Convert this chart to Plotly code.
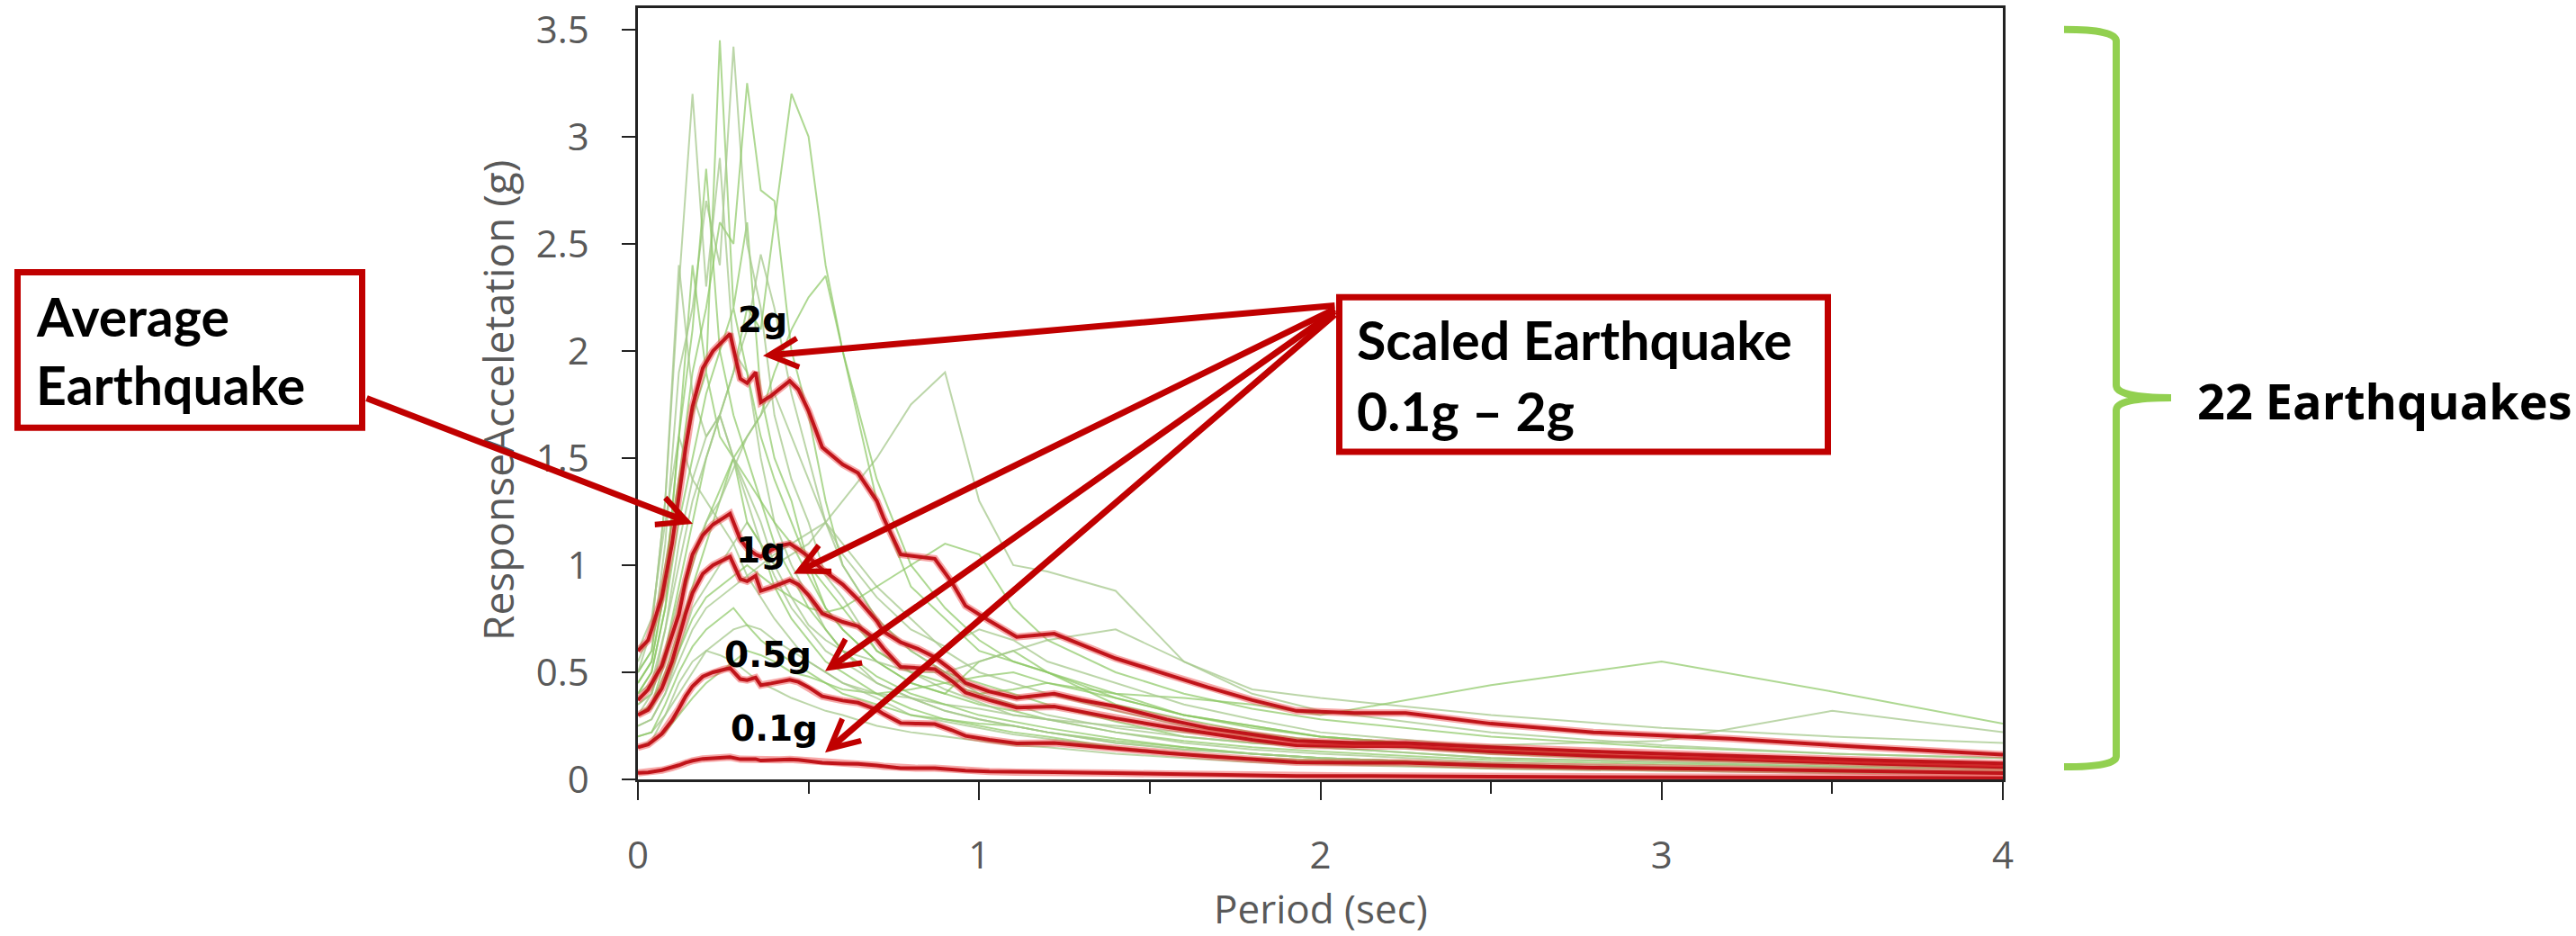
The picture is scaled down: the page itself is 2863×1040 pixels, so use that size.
import plotly.graph_objects as go

# ---------------- data ----------------
period_red = [0, 0.03, 0.07, 0.10, 0.12, 0.14, 0.16, 0.19, 0.22, 0.25,
              0.27, 0.30, 0.32, 0.345, 0.36, 0.39, 0.415, 0.445, 0.47, 0.50,
              0.54, 0.60, 0.645, 0.70, 0.72, 0.77, 0.82, 0.87, 0.92, 0.96,
              1.03, 1.11, 1.22, 1.30, 1.40, 1.55, 1.67, 1.80, 1.93, 2.10,
              2.25, 2.50, 2.80, 3.20, 3.60, 4.00]

scaled_2g = [0.60, 0.65, 0.85, 1.10, 1.32, 1.55, 1.74, 1.92, 2.00, 2.05,
             2.08, 1.87, 1.85, 1.90, 1.76, 1.79, 1.82, 1.86, 1.82, 1.72,
             1.55, 1.47, 1.43, 1.30, 1.22, 1.05, 1.04, 1.03, 0.92, 0.81,
             0.74, 0.665, 0.68, 0.63, 0.565, 0.49, 0.43, 0.37, 0.32, 0.31,
             0.31, 0.26, 0.22, 0.19, 0.15, 0.115]

scaled_1g = [0.30, 0.325, 0.425, 0.55, 0.66, 0.775, 0.87, 0.96, 1.00, 1.025,
             1.04, 0.935, 0.925, 0.95, 0.88, 0.895, 0.91, 0.93, 0.91, 0.86,
             0.775, 0.735, 0.715, 0.65, 0.61, 0.525, 0.52, 0.515, 0.46, 0.405,
             0.37, 0.335, 0.34, 0.315, 0.285, 0.245, 0.215, 0.185, 0.16, 0.155,
             0.155, 0.13, 0.11, 0.095, 0.075, 0.058]

scaled_05g = [0.15, 0.163, 0.213, 0.275, 0.33, 0.388, 0.435, 0.48, 0.50, 0.513,
              0.52, 0.468, 0.463, 0.475, 0.44, 0.448, 0.455, 0.465, 0.455, 0.43,
              0.388, 0.368, 0.358, 0.325, 0.305, 0.263, 0.26, 0.258, 0.23, 0.203,
              0.185, 0.168, 0.17, 0.158, 0.143, 0.123, 0.108, 0.093, 0.08, 0.078,
              0.078, 0.065, 0.055, 0.048, 0.038, 0.029]

scaled_01g = [0.03, 0.033, 0.043, 0.055, 0.066, 0.078, 0.087, 0.096, 0.10, 0.103,
              0.104, 0.094, 0.093, 0.095, 0.088, 0.09, 0.091, 0.093, 0.091, 0.086,
              0.078, 0.074, 0.072, 0.065, 0.061, 0.053, 0.052, 0.052, 0.046, 0.041,
              0.037, 0.034, 0.034, 0.032, 0.029, 0.025, 0.022, 0.019, 0.016, 0.016,
              0.016, 0.013, 0.011, 0.01, 0.008, 0.006]

average_eq = [0.37, 0.42, 0.53, 0.67, 0.77, 0.93, 1.05, 1.14, 1.19, 1.22,
              1.24, 1.12, 1.08, 1.05, 1.04, 1.07, 1.09, 1.10, 1.075, 1.04,
              0.98, 0.91, 0.84, 0.74, 0.69, 0.64, 0.61, 0.57, 0.51, 0.45,
              0.41, 0.38, 0.40, 0.37, 0.34, 0.28, 0.24, 0.21, 0.18, 0.17,
              0.17, 0.15, 0.13, 0.11, 0.09, 0.075]

period_green = [0, 0.04, 0.08, 0.12, 0.16, 0.20, 0.24, 0.28, 0.32, 0.36, 0.40,
                0.45, 0.50, 0.55, 0.60, 0.70, 0.80, 0.90, 1.0, 1.1, 1.2, 1.4,
                1.6, 1.8, 2.0, 2.5, 3.0, 3.5, 4.0]

eq01 = [0.45, 0.55, 0.9, 1.6, 2.4, 1.9, 3.45, 2.2, 2.6, 1.8, 1.5, 1.3, 1.0, 0.8, 0.7, 0.55, 0.45, 0.4, 0.35, 0.32, 0.28, 0.22, 0.18, 0.15, 0.13, 0.09, 0.07, 0.06, 0.05]
eq02 = [0.5, 0.6, 1.1, 1.9, 2.2, 2.7, 2.4, 3.42, 2.5, 2.2, 1.7, 1.4, 1.2, 0.95, 0.85, 0.6, 0.5, 0.42, 0.36, 0.3, 0.28, 0.22, 0.17, 0.14, 0.12, 0.08, 0.06, 0.05, 0.04]
eq03 = [0.4, 0.5, 0.8, 1.4, 1.9, 2.2, 2.6, 2.5, 3.25, 2.75, 2.7, 2.0, 1.7, 1.3, 1.0, 0.75, 0.6, 0.5, 0.45, 0.4, 0.35, 0.27, 0.2, 0.17, 0.15, 0.1, 0.08, 0.06, 0.05]
eq04 = [0.55, 0.7, 1.3, 2.3, 3.2, 2.3, 2.9, 2.0, 1.9, 1.5, 1.2, 1.0, 0.85, 0.7, 0.6, 0.45, 0.38, 0.32, 0.28, 0.25, 0.22, 0.17, 0.14, 0.12, 0.1, 0.07, 0.05, 0.04, 0.035]
eq05 = [0.35, 0.4, 0.6, 0.9, 1.2, 1.5, 1.7, 1.9, 2.2, 2.1, 2.6, 3.2, 3.0, 2.4, 2.0, 1.3, 0.9, 0.75, 0.6, 0.55, 0.5, 0.38, 0.3, 0.25, 0.2, 0.14, 0.1, 0.08, 0.07]
eq06 = [0.25, 0.28, 0.4, 0.6, 0.8, 0.9, 1.0, 1.1, 1.2, 1.1, 1.0, 1.05, 1.1, 1.2, 1.3, 1.5, 1.75, 1.9, 1.3, 1.0, 0.97, 0.88, 0.55, 0.42, 0.38, 0.3, 0.24, 0.2, 0.17]
eq07 = [0.15, 0.17, 0.22, 0.3, 0.38, 0.45, 0.5, 0.55, 0.6, 0.58, 0.55, 0.5, 0.48, 0.45, 0.42, 0.4, 0.42, 0.45, 0.48, 0.5, 0.45, 0.4, 0.38, 0.35, 0.3, 0.44, 0.55, 0.41, 0.26]
eq08 = [0.2, 0.22, 0.3, 0.4, 0.5, 0.6, 0.65, 0.7, 0.72, 0.7, 0.65, 0.6, 0.55, 0.5, 0.45, 0.4, 0.38, 0.35, 0.33, 0.3, 0.28, 0.25, 0.22, 0.2, 0.18, 0.16, 0.18, 0.32, 0.22]
eq09 = [0.5, 0.6, 1.0, 1.4, 1.7, 1.9, 1.6, 1.5, 1.2, 1.1, 0.9, 0.75, 0.65, 0.55, 0.5, 0.4, 0.33, 0.28, 0.25, 0.22, 0.2, 0.15, 0.12, 0.1, 0.09, 0.06, 0.05, 0.04, 0.03]
eq10 = [0.4, 0.45, 0.7, 1.0, 1.3, 1.5, 1.7, 1.9, 2.1, 2.45, 2.2, 1.8, 1.5, 1.2, 1.0, 0.75, 0.6, 0.5, 0.4, 0.35, 0.3, 0.24, 0.2, 0.17, 0.15, 0.1, 0.08, 0.06, 0.05]
eq11 = [0.3, 0.35, 0.5, 0.7, 0.9, 1.1, 1.3, 1.5, 1.6, 1.7, 1.9, 2.1, 2.25, 2.35, 2.0, 1.4, 1.0, 0.8, 0.65, 0.55, 0.5, 0.4, 0.3, 0.25, 0.2, 0.14, 0.1, 0.08, 0.06]
eq12 = [0.6, 0.75, 1.2, 1.6, 1.4, 1.3, 1.2, 1.1, 0.95, 0.85, 0.75, 0.65, 0.55, 0.5, 0.45, 0.38, 0.3, 0.27, 0.24, 0.21, 0.19, 0.15, 0.12, 0.1, 0.08, 0.05, 0.04, 0.03, 0.03]
eq13 = [0.3, 0.35, 0.55, 0.8, 1.0, 1.2, 1.35, 1.5, 1.4, 1.3, 1.2, 1.1, 0.95, 0.8, 0.7, 0.55, 0.45, 0.4, 0.55, 0.6, 0.5, 0.35, 0.28, 0.22, 0.18, 0.12, 0.09, 0.07, 0.06]
eq14 = [0.35, 0.4, 0.6, 0.85, 1.05, 1.2, 1.3, 1.45, 1.6, 1.7, 1.8, 1.6, 1.4, 1.2, 1.05, 0.85, 0.7, 0.62, 0.7, 0.65, 0.55, 0.45, 0.35, 0.28, 0.22, 0.15, 0.11, 0.09, 0.07]
eq15 = [0.2, 0.22, 0.35, 0.5, 0.62, 0.7, 0.75, 0.8, 0.72, 0.65, 0.6, 0.55, 0.5, 0.45, 0.4, 0.35, 0.3, 0.28, 0.26, 0.25, 0.22, 0.18, 0.15, 0.12, 0.1, 0.07, 0.05, 0.04, 0.03]
eq16 = [0.25, 0.28, 0.4, 0.55, 0.7, 0.8, 0.85, 0.9, 0.95, 1.0, 1.05, 1.1, 1.15, 1.2, 1.1, 0.9, 0.75, 0.6, 0.5, 0.45, 0.4, 0.32, 0.25, 0.2, 0.17, 0.12, 0.09, 0.07, 0.06]
eq17 = [0.45, 0.55, 0.9, 1.6, 2.1, 2.85, 2.0, 1.7, 1.5, 1.3, 1.1, 0.95, 0.8, 0.7, 0.6, 0.48, 0.4, 0.35, 0.3, 0.27, 0.24, 0.19, 0.15, 0.12, 0.1, 0.07, 0.05, 0.04, 0.035]
eq18 = [0.5, 0.7, 1.3, 2.4, 1.8, 1.6, 1.7, 1.5, 1.3, 1.1, 0.95, 0.8, 0.7, 0.6, 0.55, 0.45, 0.38, 0.32, 0.28, 0.25, 0.22, 0.17, 0.14, 0.12, 0.1, 0.07, 0.05, 0.04, 0.03]
eq19 = [0.3, 0.33, 0.45, 0.6, 0.75, 0.85, 0.9, 0.95, 1.0, 0.95, 0.9, 0.85, 0.8, 0.78, 0.8, 0.9, 1.0, 1.1, 1.05, 0.8, 0.65, 0.5, 0.4, 0.33, 0.28, 0.2, 0.15, 0.12, 0.1]
eq20 = [0.15, 0.18, 0.3, 0.45, 0.55, 0.6, 0.58, 0.55, 0.5, 0.45, 0.42, 0.38, 0.35, 0.32, 0.3, 0.25, 0.22, 0.2, 0.18, 0.16, 0.15, 0.12, 0.1, 0.08, 0.07, 0.05, 0.04, 0.03, 0.025]
eq21 = [0.4, 0.5, 0.8, 1.2, 1.5, 1.8, 2.0, 2.2, 1.9, 1.6, 1.4, 1.2, 1.0, 0.9, 0.8, 0.6, 0.5, 0.45, 0.4, 0.42, 0.45, 0.38, 0.3, 0.24, 0.2, 0.14, 0.1, 0.08, 0.07]
eq22 = [0.3, 0.4, 0.7, 1.1, 1.4, 1.6, 1.7, 1.5, 1.35, 1.2, 1.0, 0.85, 0.72, 0.65, 0.6, 0.55, 0.5, 0.5, 0.55, 0.6, 0.65, 0.7, 0.55, 0.4, 0.32, 0.22, 0.16, 0.12, 0.1]

earthquakes = [eq01, eq02, eq03, eq04, eq05, eq06, eq07, eq08, eq09, eq10, eq11,
               eq12, eq13, eq14, eq15, eq16, eq17, eq18, eq19, eq20, eq21, eq22]

x_tick_vals = [0, 1, 2, 3, 4]
x_tick_text = ["0", "1", "2", "3", "4"]
y_tick_vals = [0, 0.5, 1, 1.5, 2, 2.5, 3, 3.5]
y_tick_text = ["0", "0.5", "1", "1.5", "2", "2.5", "3", "3.5"]

# ---------------- layout geometry (pixels) ----------------
W, H = 2863, 1040
PL, PR, PT, PB = 709, 2226, 3, 866


def fx(px):
    return (px - PL) / (PR - PL)


def fy(py):
    return (PB - py) / (PB - PT)


RED = "#C00000"
AX_GRAY = "#595959"

fig = go.Figure()

green_cols = ["rgba(140,200,100,0.70)", "rgba(165,200,140,0.75)"]
for i, eq in enumerate(earthquakes):
    fig.add_trace(go.Scatter(x=period_green, y=eq, mode="lines",
                             line=dict(color=green_cols[i % 2], width=2),
                             hoverinfo="skip", showlegend=False))

for ys in [scaled_01g, scaled_05g, scaled_1g, average_eq, scaled_2g]:
    fig.add_trace(go.Scatter(x=period_red, y=ys, mode="lines",
                             line=dict(color="rgba(235,60,60,0.45)", width=8),
                             hoverinfo="skip", showlegend=False))
    fig.add_trace(go.Scatter(x=period_red, y=ys, mode="lines",
                             line=dict(color="#C0141A", width=4),
                             hoverinfo="skip", showlegend=False))

shapes = []
# annotation boxes
for (x0, x1, y0, y1) in [(16, 406, 295, 476), (1485, 2035, 323, 503)]:
    shapes.append(dict(type="rect", xref="paper", yref="paper",
                       x0=fx(x0 + 3.5), x1=fx(x1 - 3.5),
                       y0=fy(y0 + 3.5), y1=fy(y1 - 3.5),
                       line=dict(color=RED, width=7), fillcolor="white",
                       layer="above"))

# green brace
brace_pts = [("M", 2294, 27), ("Q", 2352, 27, 2352, 40), ("L", 2352, 425),
             ("Q", 2352, 439, 2413, 439), ("Q", 2352, 439, 2352, 453),
             ("L", 2352, 840), ("Q", 2352, 852, 2294, 852)]
parts = []
for p in brace_pts:
    cmd = p[0]
    coords = p[1:]
    s = cmd
    for k in range(0, len(coords), 2):
        s += f"{fx(coords[k]):.5f},{fy(coords[k + 1]):.5f} "
    parts.append(s.strip())
shapes.append(dict(type="path", xref="paper", yref="paper", path=" ".join(parts),
                   line=dict(color="#92D050", width=8)))

annotations = []
# axis titles
annotations.append(dict(text="Period (sec)", xref="paper", yref="paper",
                        x=fx(1467.5), y=fy(1010), xanchor="center", yanchor="middle",
                        showarrow=False, font=dict(family="Open Sans", size=44, color=AX_GRAY)))
annotations.append(dict(text="ResponseAcceletation (g)", xref="paper", yref="paper",
                        x=fx(553), y=fy(442), xanchor="center", yanchor="middle",
                        textangle=-90, showarrow=False,
                        font=dict(family="Open Sans", size=46, color=AX_GRAY)))

# box texts
box_font = dict(family="Lato", size=59, color="black", weight="bold")
for txt, x, y in [("Average", 38, 347.5), ("Earthquake", 38, 424.5),
                  ("Scaled Earthquake", 1506, 374.5), ("0.1g – 2g", 1506, 453.5)]:
    annotations.append(dict(text=txt, xref="paper", yref="paper", x=fx(x), y=fy(y),
                            xanchor="left", yanchor="middle", showarrow=False,
                            font=box_font))

annotations.append(dict(text="22 Earthquakes", xref="paper", yref="paper",
                        x=fx(2861), y=fy(442), xanchor="right", yanchor="middle",
                        showarrow=False,
                        font=dict(family="Open Sans", size=54, color="black", weight="bold")))

# curve labels
lab_font = dict(family="DejaVu Sans", size=39, color="black", weight="bold")
for txt, x, y in [("2g", 847, 351.5), ("1g", 845, 610), ("0.5g", 853, 727), ("0.1g", 860, 809)]:
    annotations.append(dict(text=txt, xref="paper", yref="paper", x=fx(x), y=fy(y),
                            xanchor="center", yanchor="middle", showarrow=False,
                            font=lab_font))

# arrows: (tail_x, tail_y, tip_x, tip_y)
for tx, ty, hx, hy in [(406, 440, 770, 580), (1485, 336, 848, 392),
                       (1485, 341, 882, 636), (1485, 344, 917, 745),
                       (1485, 348, 917, 836)]:
    annotations.append(dict(text="", xref="paper", yref="paper", x=fx(hx), y=fy(hy),
                            ax=tx - hx, ay=ty - hy, showarrow=True,
                            arrowhead=5, arrowsize=0.9, arrowwidth=7,
                            arrowcolor=RED, standoff=0, startstandoff=0))

fig.update_layout(
    width=W, height=H, autosize=False,
    margin=dict(l=PL, r=W - PR, t=PT, b=H - PB, pad=0),
    plot_bgcolor="white", paper_bgcolor="white",
    showlegend=False, hovermode=False,
    shapes=shapes, annotations=annotations,
    xaxis=dict(range=[0, 4], tickvals=x_tick_vals, ticktext=x_tick_text,
               ticks="outside", ticklen=20, tickwidth=2, tickcolor="#222",
               minor=dict(tickvals=[0.5, 1.5, 2.5, 3.5], ticks="outside", ticklen=13,
                          tickwidth=2, tickcolor="#222", showgrid=False),
               showline=True, linecolor="#222", linewidth=2.5, mirror=True,
               showgrid=False, zeroline=False, ticklabelstandoff=26,
               ticklabeloverflow="allow",
               tickfont=dict(family="Open Sans", size=42, color=AX_GRAY)),
    yaxis=dict(range=[0, 3.6], tickvals=y_tick_vals, ticktext=y_tick_text,
               ticks="outside", ticklen=15, tickwidth=2, tickcolor="#222",
               showline=True, linecolor="#222", linewidth=2.5, mirror=True,
               showgrid=False, zeroline=False, ticklabelstandoff=28,
               ticklabeloverflow="allow",
               tickfont=dict(family="Open Sans", size=42, color=AX_GRAY)),
)

fig.write_html("out.html")
